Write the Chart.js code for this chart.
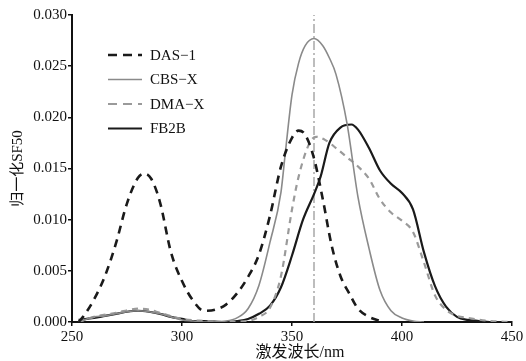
<!DOCTYPE html>
<html><head><meta charset="utf-8">
<script src="https://cdn.jsdelivr.net/npm/chart.js@4/dist/chart.umd.min.js"></script>
<style>html,body{margin:0;padding:0;background:#fff}#wrap{width:526px;height:361px;position:relative}</style>
</head><body><div id="wrap"><canvas id="c" width="526" height="361"></canvas></div>
<script>
const xTicks = [250, 300, 350, 400, 450];
const yTicks = [0, 0.005, 0.010, 0.015, 0.020, 0.025, 0.030];
const seriesNames = ["DAS\u22121", "CBS\u2212X", "DMA\u2212X", "FB2B"];
const xTitle = '激发波长/nm';
const yTitle = '归一化SF50';

const dasX = [253,255,260,265,270,275,280,283,286,290,295,300,305,310,315,320,325,330,335,340,345,350,353,356,360,364,368,372,376,380,385,390];
const dasY = [0,0.0005,0.0022,0.0045,0.0077,0.0116,0.0141,0.0145,0.0140,0.0117,0.0068,0.0040,0.0021,0.0011,0.0012,0.0017,0.0028,0.0044,0.0066,0.0104,0.0152,0.0180,0.0187,0.0183,0.0160,0.0120,0.0075,0.0045,0.0028,0.0013,0.0005,0.0001];

const cbsX = [253,260,265,270,275,280,285,290,295,300,305,310,320,325,330,335,340,345,347,350,353,356,360,364,367,370,375,380,385,390,395,400,405,410];
const cbsY = [0,0.0005,0.0006,0.0008,0.0010,0.0011,0.0010,0.0008,0.0005,0.0002,0.0001,0,0.0001,0.0004,0.0013,0.0036,0.0078,0.0127,0.0166,0.0222,0.0253,0.0270,0.0277,0.0270,0.0258,0.0242,0.0194,0.0122,0.0072,0.0031,0.0011,0.0004,0.0001,0];

const dmaX = [253,260,270,280,285,290,300,310,320,330,335,340,345,350,353,358,361,365,370,375,380,385,390,395,400,405,410,415,420,425,430,440,450];
const dmaY = [0,0.0005,0.0009,0.0013,0.0012,0.0009,0.0003,0.0001,0,0.0001,0.0005,0.0014,0.0045,0.0110,0.0142,0.0175,0.0181,0.0178,0.0170,0.0161,0.0152,0.0140,0.0120,0.0107,0.0099,0.0088,0.0058,0.0026,0.0012,0.0006,0.0004,0.0001,0];

const fbX = [253,260,265,270,275,280,285,290,295,300,305,310,320,325,330,335,340,345,350,355,360,363,367,372,377,380,385,390,395,400,405,410,415,420,425,430,435,440,450];
const fbY = [0.0002,0.0004,0.0006,0.0008,0.0010,0.0011,0.0010,0.0008,0.0005,0.0003,0.0001,0.0001,0,0.0001,0.0003,0.0008,0.0016,0.0034,0.0065,0.0100,0.0125,0.0142,0.0175,0.0190,0.0193,0.0188,0.0170,0.0148,0.0135,0.0126,0.0110,0.0068,0.0035,0.0015,0.0005,0.0002,0.0001,0,0];

const markX = [360, 360];
const markY = [0, 0.030];

const pts = (xs, ys) => xs.map((x, i) => ({x: x, y: ys[i]}));

const styles = [
  {color:'#1a1a1a', width:2.6, dash:[8,6]},
  {color:'#8a8a8a', width:1.6, dash:[]},
  {color:'#9a9a9a', width:2.2, dash:[6,5]},
  {color:'#1a1a1a', width:2.2, dash:[]}
];
const dataSets = [pts(dasX,dasY), pts(cbsX,cbsY), pts(dmaX,dmaY), pts(fbX,fbY)];

const datasets = dataSets.map((d, i) => ({
  label: seriesNames[i], data: d, borderColor: styles[i].color, borderWidth: styles[i].width,
  borderDash: styles[i].dash, pointRadius: 0, fill: false, tension: 0.4, cubicInterpolationMode: 'monotone'
}));
datasets.push({label:'mark', data: pts(markX, markY), borderColor:'#a8a8a8', borderWidth:1.5,
  borderDash:[9,3,2,3], pointRadius:0, fill:false});

const serif = "'Liberation Serif', 'Times New Roman', serif";
const cjk = "'Liberation Serif', 'Noto Sans CJK SC', serif";

const legendPlugin = {
  id: 'innerLegend',
  afterDatasetsDraw(chart) {
    const ctx = chart.ctx;
    const a = chart.chartArea;
    ctx.save();
    ctx.font = "15px " + serif;
    ctx.textBaseline = 'middle';
    ctx.fillStyle = '#111';
    for (let i = 0; i < seriesNames.length; i++) {
      const y = a.top + 40 + i * 24.5;
      const x0 = a.left + 36;
      ctx.beginPath();
      ctx.strokeStyle = styles[i].color;
      ctx.lineWidth = styles[i].width;
      ctx.setLineDash(styles[i].dash.length ? [9, 6] : []);
      ctx.moveTo(x0, y); ctx.lineTo(x0 + 34, y);
      ctx.stroke();
      ctx.setLineDash([]);
      ctx.fillText(seriesNames[i], x0 + 42, y + 1);
    }
    // x axis title
    ctx.font = "16px " + cjk;
    ctx.textAlign = 'center';
    ctx.fillText(xTitle, a.left + (a.right - a.left) / 2 + 8, a.bottom + 31);
    ctx.restore();
  }
};

new Chart(document.getElementById('c'), {
  type: 'line',
  data: { datasets: datasets },
  options: {
    responsive: false, animation: false,
    layout: { padding: { top: 15, right: 14, left: 0, bottom: 0 } },
    plugins: { legend: { display: false }, tooltip: { enabled: false } },
    scales: {
      x: {
        type: 'linear', min: 250, max: 450,
        afterBuildTicks: s => { s.ticks = xTicks.map(v => ({value: v})); },
        ticks: { color:'#111', font:{family: serif, size: 15}, padding: 2, maxRotation: 0 },
        grid: { display: true, drawOnChartArea: false, drawTicks: true, tickLength: 4, color:'#111', lineWidth: 1.5 },
        border: { display: true, color:'#111', width: 2 },
        title: { display: false },
        afterFit: s => { s.height = 39; }
      },
      y: {
        type: 'linear', min: 0, max: 0.030,
        afterBuildTicks: s => { s.ticks = yTicks.map(v => ({value: v})); },
        ticks: { color:'#111', font:{family: serif, size: 15}, padding: 1, callback: v => Number(v).toFixed(3) },
        grid: { display: true, drawOnChartArea: false, drawTicks: true, tickLength: 4, color:'#111', lineWidth: 1.5 },
        border: { display: true, color:'#111', width: 2 },
        title: { display: true, text: yTitle, color:'#111', font:{family: cjk, size: 15}, padding: {top: 9, bottom: 0} },
        afterFit: s => { s.width = 72; }
      }
    }
  },
  plugins: [legendPlugin]
});
</script></body></html>
